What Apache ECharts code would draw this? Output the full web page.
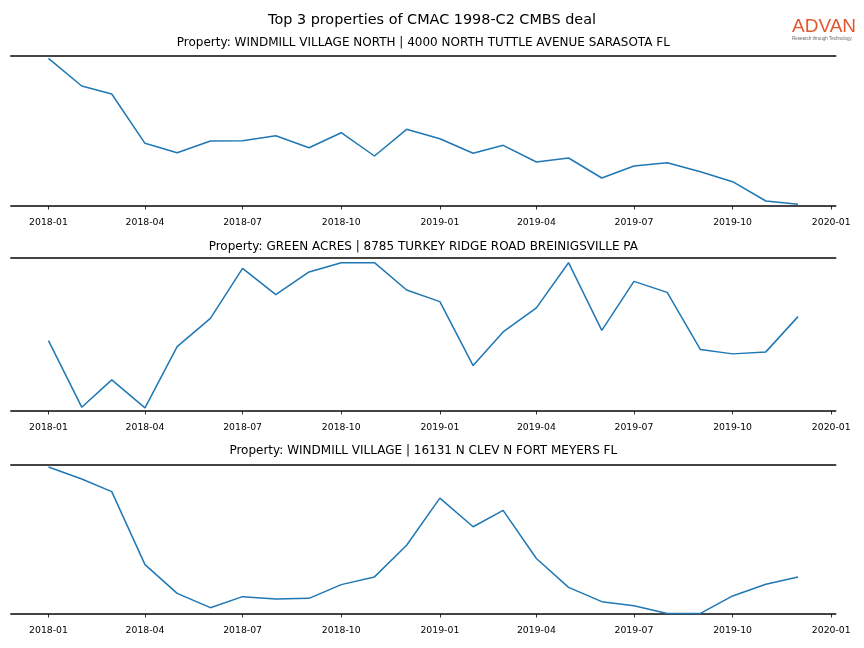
<!DOCTYPE html>
<html>
<head>
<meta charset="utf-8">
<script src="https://cdn.jsdelivr.net/npm/echarts@6/dist/echarts.min.js"></script>
<style>
html,body{margin:0;padding:0;background:#fff;}
#chart{width:864px;height:648px;}
</style>
</head>
<body>
<div id="chart"></div>
<script>
// Months (monthly points)
const months = ['2018-01','2018-02','2018-03','2018-04','2018-05','2018-06','2018-07','2018-08','2018-09','2018-10','2018-11','2018-12',
                '2019-01','2019-02','2019-03','2019-04','2019-05','2019-06','2019-07','2019-08','2019-09','2019-10','2019-11','2019-12'];
// Tick labels (quarterly)
const tickLabels = ['2018-01','2018-04','2018-07','2018-10','2019-01','2019-04','2019-07','2019-10','2020-01'];

const mainTitle = 'Top 3 properties of CMAC 1998-C2 CMBS deal';
const panelTitles = [
  'Property: WINDMILL VILLAGE NORTH | 4000 NORTH TUTTLE AVENUE SARASOTA FL',
  'Property: GREEN ACRES | 8785 TURKEY RIDGE ROAD BREINIGSVILLE PA',
  'Property: WINDMILL VILLAGE | 16131 N CLEV N FORT MEYERS FL'
];

// Relative values (y-axis unlabeled in the reference)
const windmillNorth = [147.7,120,112,62.7,53.3,65,65.3,70.3,58.3,73.3,50,76.7,67.3,52.7,60.7,44,48,28,40,43.3,34.3,24.3,5,1.7];
const greenAcres    = [70.5,3.8,31.2,3.2,64.5,92.8,142.8,116.5,139.2,148.5,148.5,121.2,109.5,45.5,79.2,103.2,148.5,80.8,129.8,118.8,61.5,57.2,59.2,94.5];
const windmill      = [146.6,134.6,122,49.3,20.6,6.3,17.3,15,15.6,29.3,37,68.6,115.6,87,103.3,55.3,26.6,12.3,8.3,0.6,0.6,18,29.6,37];

const yRanges = [[0,150],[0,153.2],[0,148.6]];
const seriesData = [windmillNorth, greenAcres, windmill];

const DAY = 86400000;
function toDay(s){ const p = s.split('-'); return Date.UTC(+p[0], +p[1]-1, 1) / DAY; }
function fmtDay(d){ const dt = new Date(Math.round(d)*DAY); return dt.getUTCFullYear() + '-' + String(dt.getUTCMonth()+1).padStart(2,'0'); }
const first = toDay(months[0]), last = toDay(months[months.length-1]);
const pad = 0.05*(last-first);
const xMin = first - pad, xMax = last + pad;
const tickVals = tickLabels.map(toDay);

const grids = [
  {left:11, right:28.5, top:56, height:150},
  {left:11, right:28.5, top:258, height:153},
  {left:11, right:28.5, top:465, height:149}
];
const titleTops = [32, 236, 440];

const spine = {show:true, lineStyle:{color:'#444', width:2}};
const xAxes = [], yAxes = [], series = [], titles = [];
titles.push({text: mainTitle, left: 'center', top: 8,
  textStyle:{fontFamily:'DejaVu Sans', fontSize:14.4, fontWeight:'normal', color:'#000'}});
grids.forEach((g, i) => {
  xAxes.push({
    type:'value', gridIndex:i, position:'bottom', min:xMin, max:xMax,
    axisLine: spine,
    axisTick:{show:true, length:3.5, lineStyle:{color:'#000', width:0.8}, customValues: tickVals},
    axisLabel:{show:true, fontFamily:'DejaVu Sans', fontSize:9.3, color:'#000', margin:12,
      customValues: tickVals, formatter: v => fmtDay(v)},
    splitLine:{show:false}
  });
  xAxes.push({
    type:'value', gridIndex:i, position:'top', min:xMin, max:xMax,
    axisLine: spine, axisTick:{show:false}, axisLabel:{show:false}, splitLine:{show:false}
  });
  yAxes.push({
    type:'value', gridIndex:i, min:yRanges[i][0], max:yRanges[i][1],
    axisLine:{show:false}, axisTick:{show:false}, axisLabel:{show:false}, splitLine:{show:false}
  });
  series.push({
    type:'line', xAxisIndex: 2*i, yAxisIndex: i, showSymbol:false, symbol:'none',
    lineStyle:{color:'#1f77b4', width:1.5}, silent:true, animation:false,
    data: months.map((m, k) => [toDay(m), seriesData[i][k]])
  });
  titles.push({text: panelTitles[i], left: 418.3, textAlign:'center', top: titleTops[i],
    textStyle:{fontFamily:'DejaVu Sans', fontSize:12, fontWeight:'normal', color:'#000'}});
});

const chart = echarts.init(document.getElementById('chart'), null, {renderer:'canvas'});
chart.setOption({
  backgroundColor:'#fff',
  animation:false,
  title: titles,
  grid: grids,
  xAxis: xAxes,
  yAxis: yAxes,
  series: series,
  graphic: [
    {type:'text', left:792, top:17, style:{text:'ADVAN', font:'19px "Liberation Sans"', fill:'#e4572e'}},
    {type:'text', left:792, top:36, style:{text:'Research through Technology', font:'4.5px "Liberation Sans"', fill:'#666'}}
  ]
});
</script>
</body>
</html>
